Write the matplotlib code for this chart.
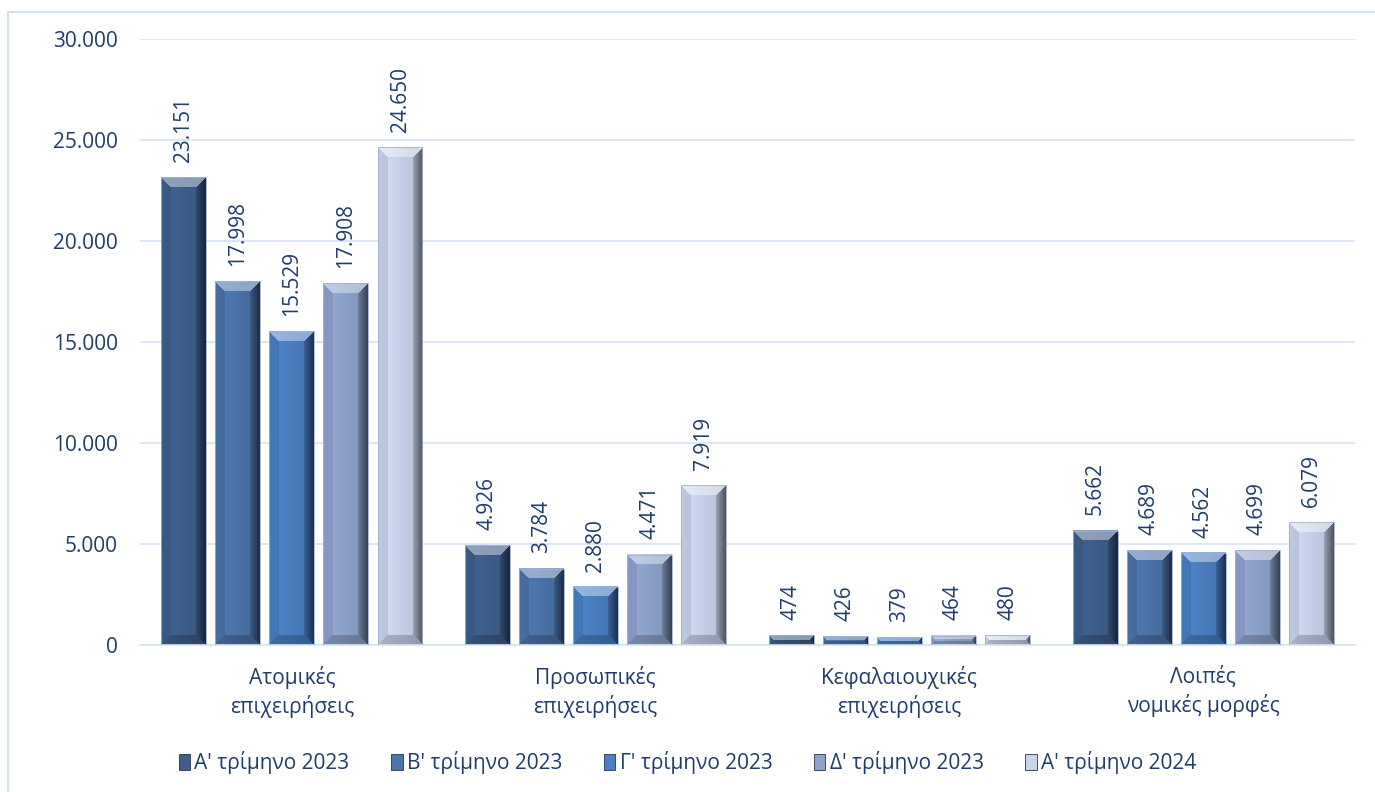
import numpy as np
import matplotlib
matplotlib.use("Agg")
import matplotlib.pyplot as plt
from matplotlib.colors import to_rgb
from matplotlib.patches import Patch, Rectangle

plt.rcParams['font.family'] = ['Open Sans', 'DejaVu Sans']

categories = ["Ατομικές\nεπιχειρήσεις", "Προσωπικές\nεπιχειρήσεις",
              "Κεφαλαιουχικές\nεπιχειρήσεις", "Λοιπές\nνομικές μορφές"]
series_names = ["Α' τρίμηνο 2023", "Β' τρίμηνο 2023", "Γ' τρίμηνο 2023",
                "Δ' τρίμηνο 2023", "Α' τρίμηνο 2024"]
values = [
    [23151, 4926, 474, 5662],
    [17998, 3784, 426, 4689],
    [15529, 2880, 379, 4562],
    [17908, 4471, 464, 4699],
    [24650, 7919, 480, 6079],
]
yticks = [0, 5000, 10000, 15000, 20000, 25000, 30000]
colors = ["#3e5f8c", "#4b74ab", "#4a7fc3", "#8ea3cc", "#c8d3ec"]

text_color = "#1f3d6b"
grid_color = "#d6e2f3"


def fmt(v):
    return f"{v:,}".replace(",", ".")


def bevel_img(color, w, h, b=10):
    # rough imitation of the office "bevel" bar effect
    c = np.array(to_rgb(color))
    w, h = max(w, 2), max(h, 2)
    b = max(1, min(b, h // 2, w // 2))
    yy, xx = np.mgrid[0:h, 0:w]
    t = xx / (w - 1)
    img = c[None, None, :] * (1.06 - 0.16 * t)[..., None]
    img = np.clip(img, 0, 1)
    dr = w - 1 - xx
    top = (yy < b) & (yy <= xx) & (yy <= dr)
    right = (dr < b) & (dr < yy) & (dr < h - 1 - yy)
    left = (xx < b) & (xx < yy) & (xx < h - 1 - yy)
    bottom = (h - 1 - yy < b) & ~left & ~right
    img[top] = img[top] + (1 - img[top]) * 0.4
    img[left] = img[left] * 0.9
    fr = 0.45 + 0.4 * (dr / b)
    img[right] = img[right] * fr[right][:, None]
    img[bottom] = img[bottom] * 0.8
    return img


fig = plt.figure(figsize=(13.75, 7.92), dpi=100)
ax = fig.add_axes([0.1018, 0.1856, 0.8837, 0.7652])

n = len(series_names)
slot = 0.178
width = 0.148
x = np.arange(len(categories))
ax.set_xlim(-0.5, len(categories) - 0.5)
ax.set_ylim(0, 30000)

px_per_x = ax.transData.transform((1, 0))[0] - ax.transData.transform((0, 0))[0]
px_per_y = ax.transData.transform((0, 1))[1] - ax.transData.transform((0, 0))[1]

for i, (name, vals) in enumerate(zip(series_names, values)):
    xs = x + (i - (n - 1) / 2) * slot
    for xc, v in zip(xs, vals):
        w_px = int(round(width * px_per_x))
        h_px = int(round(v * px_per_y))
        img = bevel_img(colors[i], w_px, h_px)
        ax.imshow(img, extent=(xc - width / 2, xc + width / 2, 0, v),
                  aspect='auto', interpolation='nearest', zorder=2)
        ax.add_patch(Rectangle((xc - width / 2, 0), width, v, fill=False,
                               edgecolor="#9fb2d0", linewidth=0.6, zorder=3))
        ax.annotate(fmt(v), (xc, v), xytext=(0, 11), textcoords='offset points',
                    rotation=90, ha='center', va='bottom', fontsize=15,
                    color=text_color)

ax.set_xlim(-0.5, len(categories) - 0.5)
ax.set_ylim(0, 30000)
ax.set_yticks(yticks)
ax.set_yticklabels([fmt(v) for v in yticks])
ax.set_xticks(x)
ax.set_xticklabels(categories)
ax.tick_params(axis='both', length=0, labelsize=15, colors=text_color)
ax.tick_params(axis='y', pad=16)
ax.tick_params(axis='x', pad=15)
for lbl in ax.get_xticklabels():
    lbl.set_linespacing(1.35)

ax.set_axisbelow(True)
ax.grid(axis='y', color=grid_color, linewidth=1.2)
for s in ['top', 'right', 'left']:
    ax.spines[s].set_visible(False)
ax.spines['bottom'].set_color(grid_color)
ax.spines['bottom'].set_linewidth(1.2)

handles = [Patch(facecolor=c, edgecolor="#27364d", linewidth=0.6, label=nm)
           for c, nm in zip(colors, series_names)]
leg = fig.legend(handles=handles, loc='center', bbox_to_anchor=(0.5, 0.037),
                 ncol=n, frameon=False, fontsize=15, handlelength=0.55,
                 handleheight=0.75, handletextpad=0.2, columnspacing=2.0)
for t in leg.get_texts():
    t.set_color(text_color)

fig.patches.append(Rectangle((8 / 1375, -0.01), 1.0, 1 - 12 / 792 + 0.01,
                             transform=fig.transFigure, fill=False,
                             edgecolor="#d3e0f2", linewidth=1.5))

fig.savefig("out.png", dpi=100)
